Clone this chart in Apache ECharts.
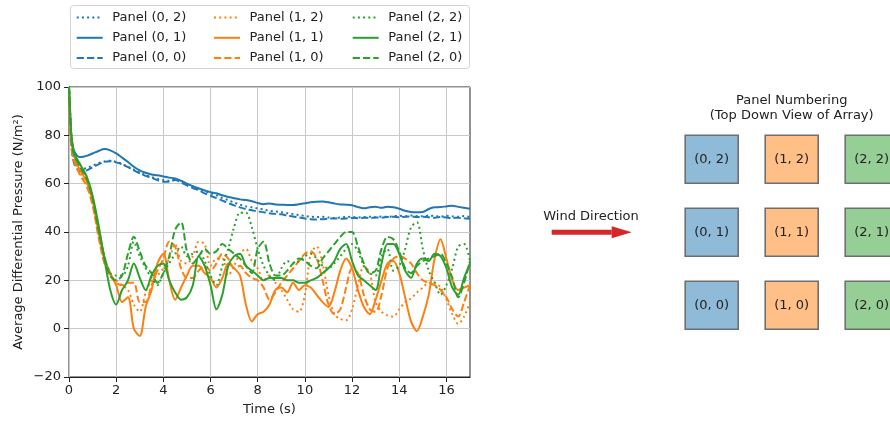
<!DOCTYPE html>
<html>
<head>
<meta charset="utf-8">
<script src="https://cdn.jsdelivr.net/npm/echarts@6/dist/echarts.min.js"></script>
<style>
  html, body { margin: 0; padding: 0; background: #ffffff; }
  #chart { width: 890px; height: 421px; }
</style>
</head>
<body>
<div id="chart"></div>
<script>
// Sample times (s): dense during the initial drop, then every 0.25 s
const time = [
  0, 0.05, 0.1, 0.2, 0.35, 0.5, 0.75, 1.0, 1.25, 1.5, 1.75,
  2, 2.25, 2.5, 2.75, 3, 3.25, 3.5, 3.75,
  4, 4.25, 4.5, 4.75, 5, 5.25, 5.5, 5.75,
  6, 6.25, 6.5, 6.75, 7, 7.25, 7.5, 7.75,
  8, 8.25, 8.5, 8.75, 9, 9.25, 9.5, 9.75,
  10, 10.25, 10.5, 10.75, 11, 11.25, 11.5, 11.75,
  12, 12.25, 12.5, 12.75, 13, 13.25, 13.5, 13.75,
  14, 14.25, 14.5, 14.75, 15, 15.25, 15.5, 15.75,
  16, 16.25, 16.5, 16.75, 17
];

// Average differential pressure (N/m^2) per panel
const panel02 = [
  100, 86, 77, 70, 67, 66, 66.5, 67.5, 68.5, 69.2, 69.5,
  69, 68.2, 67, 65.8, 64.6, 63.5, 62.8, 62,
  61.5, 61.2, 61.8, 61, 59.8, 58.8, 58, 57,
  56, 55.2, 54, 53.2, 52.2, 51.3, 50.6, 50.2,
  49.8, 49.3, 48.8, 48.5, 48.2, 47.8, 47.4, 47,
  46.6, 46.3, 46.2, 46.3, 46, 45.8, 46, 46.2,
  46.3, 46, 46.2, 46.3, 46.1, 46.4, 46.3, 46.5,
  46.7, 46.5, 46.8, 46.6, 46.5, 46.8, 46.6, 46.4,
  46.7, 46.5, 46.3, 46.6, 46.2
];
const panel01 = [
  100, 88, 80, 74, 71.5, 71, 71.5, 72.5, 73.5, 74.3, 73.8,
  72.5, 70.8, 69, 67, 65.5, 64.5, 63.8, 63.5,
  63, 62.5, 62.2, 61.2, 60, 59, 58, 57.2,
  56.5, 56, 55.2, 54.5, 54, 53.5, 53.2, 52.7,
  52, 51.5, 51.8, 51.4, 51.3, 51.2, 51.2, 51.5,
  51.9, 52.3, 52.5, 52.6, 52.3, 51.8, 51.4, 51.3,
  51.1, 50.3, 49.8, 50.2, 50.4, 50, 50.5, 50.2,
  49.6, 48.8, 48.3, 48.2, 48.3, 49.5, 50.2, 50.3,
  50.6, 50.9, 50.4, 50, 49.6
];
const panel00 = [
  100, 85, 76, 69, 66, 65, 65.5, 66.8, 68, 69, 69.3,
  68.8, 68, 66.8, 65.5, 64.3, 63.2, 62.4, 61.5,
  60.8, 60.8, 61.5, 60.5, 59.3, 58.2, 57.3, 56,
  55, 54, 53, 52, 51, 50.2, 49.5, 49,
  48.5, 48.2, 47.8, 47.5, 47.3, 46.8, 46.4, 46,
  45.6, 45.3, 45.2, 45.3, 45.5, 45.6, 45.5, 45.6,
  45.8, 45.7, 45.9, 45.8, 46, 45.9, 46.2, 46.3,
  46.1, 46.3, 46.4, 46.2, 46.3, 46.1, 45.9, 46.2,
  46, 45.8, 45.9, 45.7, 45.5
];
const panel12 = [
  100, 84, 77, 71, 67, 64, 60, 52, 39, 28, 22,
  20, 18, 16, 10, 7, 15, 20, 22,
  25, 29, 35, 28, 27, 30, 36, 35,
  26, 29, 29, 22, 26, 31, 33, 28,
  25, 20, 22, 19, 16, 12, 8, 7,
  14, 31, 34, 27, 14, 6, 4, 3.5,
  8, 18, 26, 23, 11, 7, 5.5, 5,
  8, 11, 12.5, 15, 17, 19, 19, 17,
  12, 6, 2, 5, 11
];
const panel11 = [
  100, 85, 78, 72, 68, 65, 61, 53, 40, 29, 23,
  18, 11, 13, 0, -3, 9, 16, 27,
  31, 20, 12, 17, 22, 26, 26, 23,
  21, 17, 21, 27, 25, 22, 10, 3,
  6, 7, 10, 16, 17, 15, 19, 16,
  18, 17, 14, 11, 9, 15, 24, 29,
  25, 16, 9, 6, 12, 20, 27, 28,
  23, 13, 3, -1, 5, 14, 29, 37,
  29, 20, 16, 17, 18
];
const panel10 = [
  100, 82, 75, 70, 66, 63, 59, 51, 38, 27, 22,
  19, 18, 19, 19, 11, 11, 18, 24,
  29, 36, 34, 25, 21, 21, 24, 26,
  24, 27, 31, 29, 25, 26, 23, 21,
  20, 17, 12, 15, 19, 22, 25, 28,
  31, 32, 29, 20, 10, 6, 8, 17,
  25, 23, 14, 8, 7, 14, 25, 29,
  30, 29, 27, 23, 20, 19, 18, 16,
  13, 8, 5, 11, 18
];
const panel22 = [
  100, 89, 80, 73, 69.5, 67, 62.5, 54.5, 42, 30, 23,
  22, 22, 26, 36, 30, 25, 21, 18,
  23, 27, 31, 34, 30, 31, 32, 28,
  22, 18, 26, 33, 42, 48, 48, 42,
  33, 26, 22, 20, 25, 28, 27, 28,
  30, 31, 29, 26, 25, 27, 30, 33,
  35, 32, 26, 23, 22, 30, 33, 24,
  26, 33, 42, 44, 33, 24, 19, 14,
  18, 25, 34, 35, 28
];
const panel21 = [
  100, 90, 80, 73, 70, 67.5, 63, 55, 43, 29, 16,
  10, 16, 20, 27, 21, 16, 22, 26,
  27, 20, 15, 12, 13, 18, 30, 26,
  18, 8, 14, 26, 30, 31, 26, 24,
  22, 20, 21, 21, 21, 20, 20, 19,
  19, 20, 21, 23, 25, 28, 33, 35,
  28, 22, 20, 18, 16, 27, 35, 35,
  31, 24, 21, 27, 29, 28, 31, 30,
  25, 17, 14, 21, 27
];
const panel20 = [
  100, 88, 79, 72.5, 69, 66.5, 62, 54, 41, 30, 22,
  20, 22, 31, 38, 32, 26, 23, 19,
  23, 30, 41, 44, 32, 27, 30, 33,
  31, 32, 35, 33, 31, 29, 26, 23,
  33, 36, 27, 22, 22, 24, 27, 29,
  28, 26, 25, 29, 32, 35, 38, 40,
  40, 34, 27, 23, 24, 33, 38, 37,
  32, 25, 23, 26, 28, 29, 30, 31,
  27, 21, 13, 19, 28
];

// Axis ticks
const xTicks = [0, 2, 4, 6, 8, 10, 12, 14, 16];

// Panel layout of the array (column, row)
const panelCols = [0, 1, 2];
const panelRows = [2, 1, 0];
const windArrowX = [-2, -1.25];
const windArrowHeadX = -1.125;
const windArrowRow = 1;

const FONT = 'DejaVu Sans';
const GRID_COLOR = '#c8c8c8';
const colBlue = '#1f77b4', colOrange = '#ff7f0e', colGreen = '#2ca02c';
const fillColors = ['#8fbbd9', '#ffbf86', '#95cf95'];
const dashed = [7.2, 3.1];
const dotted = [2, 3.2];

// Series in plotting order: column 0, then 1, then 2; rows 2, 1, 0
const seriesDefs = [
  { name: 'Panel (0, 2)', data: panel02, color: colBlue, type: dotted },
  { name: 'Panel (0, 1)', data: panel01, color: colBlue, type: 'solid' },
  { name: 'Panel (0, 0)', data: panel00, color: colBlue, type: dashed },
  { name: 'Panel (1, 2)', data: panel12, color: colOrange, type: dotted },
  { name: 'Panel (1, 1)', data: panel11, color: colOrange, type: 'solid' },
  { name: 'Panel (1, 0)', data: panel10, color: colOrange, type: dashed },
  { name: 'Panel (2, 2)', data: panel22, color: colGreen, type: dotted },
  { name: 'Panel (2, 1)', data: panel21, color: colGreen, type: 'solid' },
  { name: 'Panel (2, 0)', data: panel20, color: colGreen, type: dashed }
];

const lineSeries = seriesDefs.map((d, k) => {
  const s = {
    name: d.name,
    type: 'line',
    xAxisIndex: 0,
    yAxisIndex: 0,
    data: time.map((t, i) => [t, d.data[i]]),
    showSymbol: false,
    symbol: 'none',
    smooth: 0.3,
    color: d.color,
    lineStyle: { width: 2, color: d.color, type: d.type, cap: 'butt' },
    emphasis: { disabled: true },
    animation: false
  };
  if (k === 0) {
    // vertical grid lines at the time ticks, kept under the curves
    s.markLine = {
      silent: true, z: 1, symbol: 'none', animation: false,
      label: { show: false },
      lineStyle: { color: GRID_COLOR, width: 1, type: 'solid' },
      emphasis: { disabled: true },
      data: xTicks.map(v => ({ xAxis: v }))
    };
  }
  return s;
});

// Panel boxes for the layout sketch
const boxData = [];
panelCols.forEach(c => {
  panelRows.forEach(r => {
    boxData.push({
      name: '(' + c + ', ' + r + ')',
      value: [c, r],
      itemStyle: { color: fillColors[c] }
    });
  });
});

function legendFor(col, left) {
  return {
    orient: 'vertical',
    left: left,
    top: 11,
    padding: 0,
    itemWidth: 26,
    itemHeight: 14,
    itemGap: 7.3,
    selectedMode: false,
    itemStyle: { color: 'rgba(0,0,0,0)', borderColor: 'rgba(0,0,0,0)', borderWidth: 0, opacity: 0 },
    data: seriesDefs.slice(col * 3, col * 3 + 3).map(d => d.name),
    textStyle: { fontFamily: FONT, fontSize: 13, color: '#222', padding: [0, 0, 0, 4.5] }
  };
}

const option = {
  backgroundColor: '#ffffff',
  animation: false,
  textStyle: { fontFamily: FONT },
  legend: [legendFor(0, 75.7), legendFor(1, 213), legendFor(2, 351.7)],
  grid: [
    { left: 69, right: 420, top: 87, bottom: 43, show: true, borderColor: '#222', borderWidth: 1, backgroundColor: 'transparent' },
    { left: 511.7, right: 2.3, top: 122.7, bottom: 79.3, show: false }
  ],
  xAxis: [
    {
      type: 'value', gridIndex: 0, min: 0, max: 17, interval: 2,
      name: 'Time (s)', nameLocation: 'middle', nameGap: 26,
      nameTextStyle: { fontFamily: FONT, fontSize: 13, color: '#222' },
      axisLine: { show: true, onZero: false, lineStyle: { color: '#222', width: 1 } },
      axisTick: { show: true, inside: false, length: 5, customValues: xTicks, lineStyle: { color: '#222', width: 1 } },
      axisLabel: { customValues: xTicks, margin: 7, fontFamily: FONT, fontSize: 13, color: '#222' },
      splitLine: { show: false }
    },
    { type: 'value', gridIndex: 1, min: -2.5, max: 2.2, show: false }
  ],
  yAxis: [
    {
      type: 'value', gridIndex: 0, min: -20, max: 100, interval: 20,
      name: 'Average Differential Pressure (N/m²)', nameLocation: 'middle', nameGap: 44,
      nameRotate: 90,
      nameTextStyle: { fontFamily: FONT, fontSize: 13, color: '#222' },
      axisLine: { show: true, onZero: false, lineStyle: { color: '#222', width: 1 } },
      axisTick: { show: true, inside: false, length: 5, lineStyle: { color: '#222', width: 1 } },
      axisLabel: {
        margin: 8, fontFamily: FONT, fontSize: 13, color: '#222',
        formatter: v => (v < 0 ? '\u2212' + Math.abs(v) : String(v))
      },
      splitLine: { show: true, lineStyle: { color: GRID_COLOR, width: 1 } }
    },
    { type: 'value', gridIndex: 1, min: -0.5, max: 2.5, show: false }
  ],
  graphic: [
    {
      type: 'rect', z: 0,
      shape: { x: 70.5, y: 5.5, width: 399, height: 63, r: 3 },
      style: { fill: '#ffffff', stroke: '#d4d4d4', lineWidth: 1 }
    },
    {
      type: 'text', x: 791.7, y: 108,
      style: {
        text: 'Panel Numbering\n(Top Down View of Array)',
        fontFamily: FONT, fontSize: 13, lineHeight: 15.5,
        fill: '#222', align: 'center', verticalAlign: 'middle'
      }
    },
    {
      type: 'text', x: 591, y: 217,
      style: {
        text: 'Wind Direction',
        fontFamily: FONT, fontSize: 13,
        fill: '#222', align: 'center', verticalAlign: 'middle'
      }
    }
  ],
  series: lineSeries.concat([
    {
      name: 'panels',
      type: 'scatter',
      xAxisIndex: 1, yAxisIndex: 1,
      symbol: 'rect',
      symbolSize: [53, 48],
      clip: false,
      data: boxData,
      itemStyle: { borderColor: '#6e6e6e', borderWidth: 1.5, opacity: 1 },
      label: {
        show: true, position: 'inside',
        formatter: p => p.name,
        fontFamily: FONT, fontSize: 13, color: '#222'
      },
      emphasis: { disabled: true },
      silent: true
    },
    {
      name: 'wind',
      type: 'line',
      xAxisIndex: 1, yAxisIndex: 1,
      data: windArrowX.map(x => [x, windArrowRow]),
      showSymbol: false, symbol: 'none',
      lineStyle: { width: 5, color: '#d62728', cap: 'butt' },
      silent: true
    },
    {
      name: 'windHead',
      type: 'scatter',
      xAxisIndex: 1, yAxisIndex: 1,
      symbol: 'triangle',
      symbolSize: [12, 20],
      symbolRotate: -90,
      data: [[windArrowHeadX, windArrowRow]],
      itemStyle: { color: '#d62728', opacity: 1 },
      silent: true
    }
  ])
};

const chart = echarts.init(document.getElementById('chart'), null, { renderer: 'canvas' });
chart.setOption(option);
</script>
</body>
</html>
